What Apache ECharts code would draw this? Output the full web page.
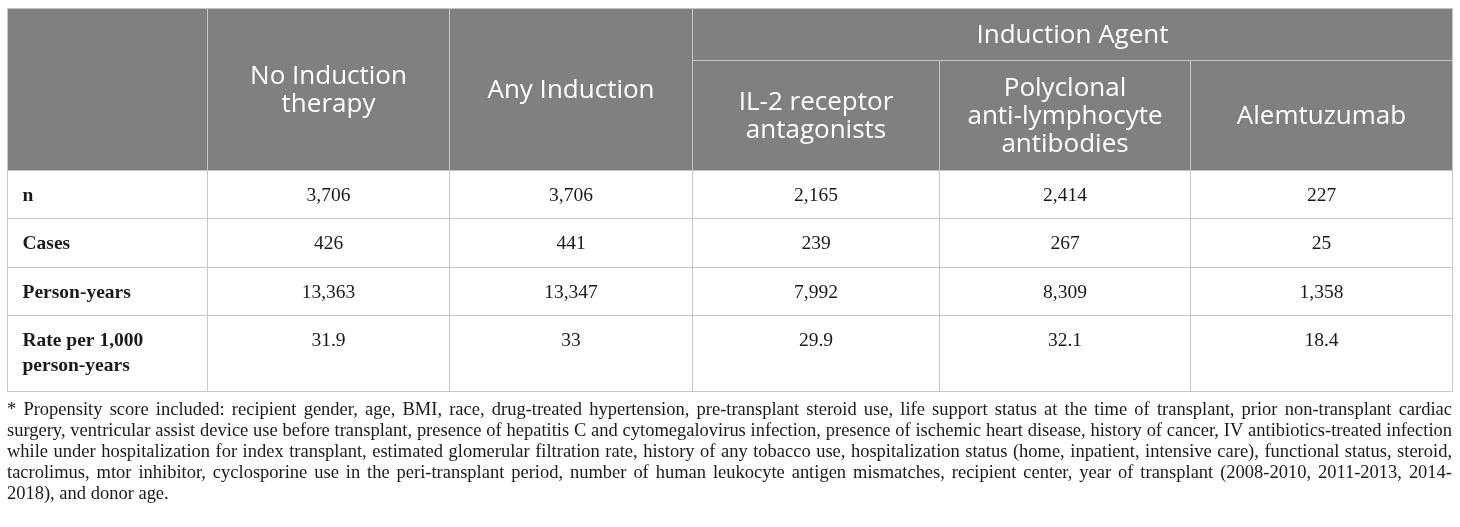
<!DOCTYPE html>
<html>
<head>
<meta charset="utf-8">
<script src="https://cdn.jsdelivr.net/npm/echarts@6/dist/echarts.min.js"></script>
<style>
  html, body { margin: 0; padding: 0; background: #fff; }
  #main { width: 1460px; height: 527px; }
</style>
</head>
<body>
<div id="main"></div>
<script>
// table content
const groups = ['No Induction\ntherapy', 'Any Induction', 'IL-2 receptor\nantagonists', 'Polyclonal\nanti-lymphocyte\nantibodies', 'Alemtuzumab'];
const spanTitle = 'Induction Agent';
const rowLabels = ['n', 'Cases', 'Person-years', 'Rate per 1,000\nperson-years'];
const nPatients = [3706, 3706, 2165, 2414, 227];
const cases = [426, 441, 239, 267, 25];
const personYears = [13363, 13347, 7992, 8309, 1358];
const ratePer1000 = [31.9, 33, 29.9, 32.1, 18.4];
const footnote = [
  '* Propensity score included: recipient gender, age, BMI, race, drug-treated hypertension, pre-transplant steroid use, life support status at the time of transplant, prior non-transplant cardiac',
  'surgery, ventricular assist device use before transplant, presence of hepatitis C and cytomegalovirus infection, presence of ischemic heart disease, history of cancer, IV antibiotics-treated infection',
  'while under hospitalization for index transplant, estimated glomerular filtration rate, history of any tobacco use, hospitalization status (home, inpatient, intensive care), functional status, steroid,',
  'tacrolimus, mtor inhibitor, cyclosporine use in the peri-transplant period, number of human leukocyte antigen mismatches, recipient center, year of transplant (2008-2010, 2011-2013, 2014-',
  '2018), and donor age.'
];

// layout (pixels)
const colW = [200, 242, 243, 247, 251, 262];
const rowH = [52, 110, 48, 49, 48, 76];
const tableLeft = 7, tableTop = 8;
const headFont = '"Open Sans", sans-serif';
const bodyFont = '"Liberation Serif", "DejaVu Serif", serif';

const edges = arr => arr.reduce((acc, w) => { acc.push(acc[acc.length - 1] + w); return acc; }, [0]);
const xEdge = edges(colW);
const yEdge = edges(rowH);
const tableW = xEdge[xEdge.length - 1];
const tableH = yEdge[yEdge.length - 1];

const fmt = v => v.toLocaleString('en-US');

// cells: column, row, column span, row span
const cells = [];
cells.push({ c: 0, r: 0, cs: 1, rs: 2, text: '', head: true });
cells.push({ c: 1, r: 0, cs: 1, rs: 2, text: groups[0], head: true });
cells.push({ c: 2, r: 0, cs: 1, rs: 2, text: groups[1], head: true });
cells.push({ c: 3, r: 0, cs: 3, rs: 1, text: spanTitle, head: true });
for (let i = 2; i < groups.length; i++) {
  cells.push({ c: i + 1, r: 1, cs: 1, rs: 1, text: groups[i], head: true });
}
[nPatients, cases, personYears, ratePer1000].forEach((vals, i) => {
  cells.push({ c: 0, r: i + 2, cs: 1, rs: 1, text: rowLabels[i], label: true });
  vals.forEach((v, j) => {
    cells.push({ c: j + 1, r: i + 2, cs: 1, rs: 1, text: fmt(v) });
  });
});

function renderCell(params, api) {
  const cell = cells[params.dataIndex];
  const p0 = api.coord([api.value(0), api.value(1)]);
  const p1 = api.coord([api.value(2), api.value(3)]);
  const x0 = Math.round(p0[0]) + 0.5, y0 = Math.round(p0[1]) + 0.5;
  const x1 = Math.round(p1[0]) + 0.5, y1 = Math.round(p1[1]) + 0.5;
  const children = [{
    type: 'rect',
    shape: { x: x0, y: y0, width: x1 - x0, height: y1 - y0 },
    style: { fill: cell.head ? '#808080' : '#ffffff', stroke: '#c6c6c6', lineWidth: 1 }
  }];
  if (cell.text) {
    let style;
    if (cell.head) {
      style = {
        text: cell.text, x: (x0 + x1) / 2, y: (y0 + y1) / 2 + 1,
        align: 'center', verticalAlign: 'middle',
        fill: '#ffffff', fontFamily: headFont, fontSize: 26, lineHeight: 28
      };
    } else if (cell.label) {
      style = {
        text: cell.text, x: x0 + 15, y: y0 + 13,
        align: 'left', verticalAlign: 'top',
        fill: '#1a1a1a', fontFamily: bodyFont, fontWeight: 'bold', fontSize: 19.5, lineHeight: 25
      };
    } else {
      style = {
        text: cell.text, x: (x0 + x1) / 2, y: y0 + 13,
        align: 'center', verticalAlign: 'top',
        fill: '#1a1a1a', fontFamily: bodyFont, fontSize: 19.5, lineHeight: 25
      };
    }
    children.push({ type: 'text', style: style });
  }
  return { type: 'group', children: children };
}

// justified footnote, one text element per word; size chosen so the widest line just fits
const footLine = 21, footTop = 410;
const ctx = document.createElement('canvas').getContext('2d');
ctx.font = '18px "Liberation Serif"';
const natural = footnote.slice(0, -1).map(l => ctx.measureText(l).width);
const footSize = Math.min(21, 18 * (tableW - 4) / Math.max.apply(null, natural));
ctx.font = footSize + 'px "Liberation Serif"';
const spaceW = ctx.measureText(' ').width;
const footElements = [];
footnote.forEach((line, li) => {
  const words = line.split(' ');
  const widths = words.map(w => ctx.measureText(w).width);
  const total = widths.reduce((a, b) => a + b, 0);
  const last = li === footnote.length - 1;
  const gap = last ? spaceW : Math.max(2, (tableW - total) / (words.length - 1));
  let x = tableLeft;
  words.forEach((w, wi) => {
    footElements.push({
      type: 'text', silent: true,
      style: {
        text: w, x: x, y: footTop + li * footLine,
        fill: '#1a1a1a', font: footSize + 'px "Liberation Serif", serif',
        verticalAlign: 'middle'
      }
    });
    x += widths[wi] + gap;
  });
});

const chart = echarts.init(document.getElementById('main'));
chart.setOption({
  animation: false,
  grid: { left: tableLeft, top: tableTop, width: tableW, height: tableH },
  xAxis: { type: 'value', min: 0, max: tableW, show: false },
  yAxis: { type: 'value', min: 0, max: tableH, inverse: true, show: false },
  series: [{
    type: 'custom',
    silent: true,
    clip: false,
    renderItem: renderCell,
    data: cells.map(c => [xEdge[c.c], yEdge[c.r], xEdge[c.c + c.cs], yEdge[c.r + c.rs]])
  }],
  graphic: { elements: footElements }
});
</script>
</body>
</html>
